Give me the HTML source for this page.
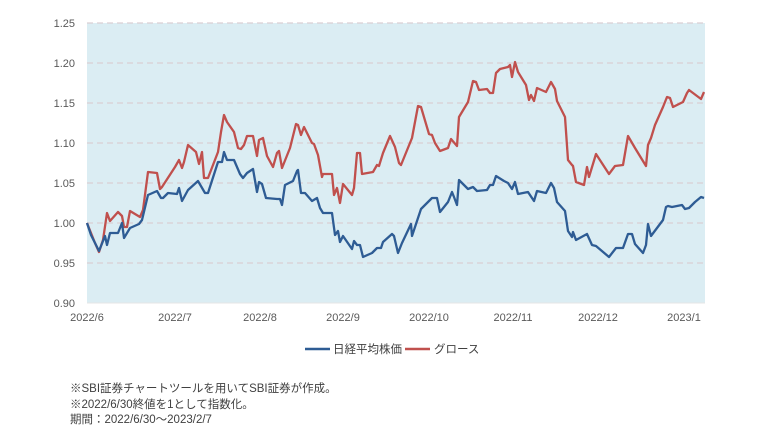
<!DOCTYPE html>
<html><head><meta charset="utf-8"><style>
body{margin:0;background:#fff;width:760px;height:441px;overflow:hidden;font-family:"Liberation Sans","Noto Sans CJK JP",sans-serif}
</style></head><body>
<svg width="760" height="441" xmlns="http://www.w3.org/2000/svg" style="position:absolute;left:0;top:0">
<rect x="87" y="23" width="618" height="280" fill="#dbedf3"/>
<g stroke="#d9cfd3" stroke-width="1.3" stroke-dasharray="6,4">
<line x1="87" x2="705" y1="23" y2="23"/><line x1="87" x2="705" y1="63" y2="63"/><line x1="87" x2="705" y1="103" y2="103"/><line x1="87" x2="705" y1="143" y2="143"/><line x1="87" x2="705" y1="183" y2="183"/><line x1="87" x2="705" y1="223" y2="223"/><line x1="87" x2="705" y1="263" y2="263"/>
</g>
<line x1="87" x2="705" y1="303" y2="303" stroke="#e5e5e5"/>
<g font-size="11" fill="#595959" text-anchor="end">
<text x="75" y="27">1.25</text><text x="75" y="67">1.20</text><text x="75" y="107">1.15</text><text x="75" y="147">1.10</text><text x="75" y="187">1.05</text><text x="75" y="227">1.00</text><text x="75" y="267">0.95</text><text x="75" y="307">0.90</text>
</g>
<g font-size="11" fill="#595959" text-anchor="middle">
<text x="87" y="321">2022/6</text><text x="175" y="321">2022/7</text><text x="260" y="321">2022/8</text><text x="343" y="321">2022/9</text><text x="429" y="321">2022/10</text><text x="513" y="321">2022/11</text><text x="598" y="321">2022/12</text><text x="684" y="321">2023/1</text>
</g>
<polyline fill="none" stroke="#c0504d" stroke-width="2.3" stroke-linejoin="round" points="87,223 95,243 99,252 103,240 107,213 110,221 118,212 122,216 124,227 127,227 130,211 140,217 143,210 148,172 157,173 160,189 162,187 175,167 179,160 182,168 184,162 188,145 196,152 199,164 202,152 204,178 208,178 218,152 221,132 224,115 227,122 234,132 238,148 241,149 244,145 247,136 253,136 257,156 259,140 263,138 267,156 273,167 277,153 279,151 282,168 290,148 292,140 296,124 298,125 301,135 304,127 312,143 314,144 318,155 322,177 323,174 332,174 334,195 337,188 340,203 343,184 352,195 354,188 357,153 360,153 362,174 373,172 377,165 379,166 383,153 390,136 395,147 399,163 401,165 412,138 418,106 421,107 429,134 432,135 435,143 440,151 448,148 451,139 457,146 459,117 468,102 473,81 476,82 479,90 487,89 490,93 493,93 496,73 500,69 508,67 510,65 512,77 515,62 518,72 526,85 529,100 531,95 534,101 537,88 546,92 551,82 555,89 557,101 565,117 568,160 572,165 573,166 576,182 584,185 587,167 589,177 596,154 609,174 615,166 623,165 628,136 635,148 646,166 648,145 651,138 655,125 663,107 667,97 670,98 673,107 683,102 687,93 689,90 701,99 704,92"/>
<polyline fill="none" stroke="#2e5c94" stroke-width="2.3" stroke-linejoin="round" points="87,223 91,235 99,251 105,236 107,245 110,233 118,233 122,223 124,238 130,228 139,224 142,220 148,195 157,191 161,198 163,198 168,193 177,194 179,188 182,201 188,190 198,181 205,193 208,193 218,162 222,162 224,152 227,160 234,160 240,174 243,178 247,173 253,169 257,192 259,182 262,184 266,198 277,199 280,199 282,205 285,185 293,181 297,171 298,170 301,193 305,193 312,201 317,198 320,208 323,213 332,213 335,235 338,231 340,242 343,236 352,249 354,241 357,245 360,245 363,257 372,253 377,248 381,248 383,242 392,234 394,236 398,253 402,243 411,224 412,236 416,224 421,209 432,198 437,198 440,212 448,202 452,192 454,197 457,205 459,180 468,189 473,187 477,191 487,190 490,185 493,185 496,176 504,181 508,183 512,189 515,182 518,194 528,192 534,201 537,191 546,193 551,183 554,188 557,202 565,211 568,231 572,237 573,232 576,240 587,234 592,245 596,246 609,257 616,248 623,248 628,234 632,234 635,244 643,253 646,245 648,224 651,236 663,220 666,207 668,206 672,207 682,205 685,209 689,208 695,202 701,197 704,198"/>
<line x1="305" x2="330" y1="349" y2="349" stroke="#2e5c94" stroke-width="2.5"/>
<text x="333" y="353" font-size="11.5" fill="#404040">日経平均株価</text>
<line x1="405" x2="430" y1="349" y2="349" stroke="#c0504d" stroke-width="2.5"/>
<text x="434" y="353" font-size="11.5" fill="#404040">グロース</text>
<g font-size="11.5" fill="#404040">
<text x="70" y="392">※SBI証券チャートツールを用いてSBI証券が作成。</text>
<text x="70" y="408">※2022/6/30終値を1として指数化。</text>
<text x="70" y="423">期間：2022/6/30～2023/2/7</text>
</g>
</svg>
</body></html>
